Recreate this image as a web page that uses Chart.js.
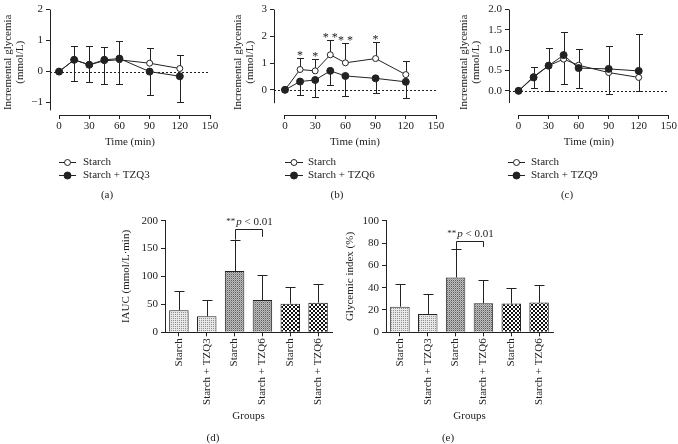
<!DOCTYPE html>
<html>
<head>
<meta charset="utf-8">
<script src="https://cdn.jsdelivr.net/npm/chart.js@4.4.0/dist/chart.umd.min.js"></script>
<style>
    body { margin: 0; background: #fff; width: 678px; height: 444px; position: relative; overflow: hidden; }
    canvas { position: absolute; }
</style>
</head>
<body>
<canvas id="chartA" style="left:0;top:0" width="220" height="205"></canvas>
<canvas id="chartB" style="left:220px;top:0" width="230" height="205"></canvas>
<canvas id="chartC" style="left:450px;top:0" width="228" height="205"></canvas>
<canvas id="chartD" style="left:115px;top:200px" width="225" height="244"></canvas>
<canvas id="chartE" style="left:335px;top:200px" width="225" height="244"></canvas>
<script>
// time course data (mean, SD)
const times = [0, 15, 30, 45, 60, 90, 120];
const timeTicks = [0, 30, 60, 90, 120, 150];

const aStarch = [0, 0.38, 0.22, 0.35, 0.38, 0.27, 0.10];
const aStarchSd = [0, 0.45, 0.61, 0.43, 0.62, 0.48, 0.43];
const aTzq3 = [0, 0.38, 0.22, 0.38, 0.42, 0.00, -0.15];
const aTzq3Sd = [0, 0.68, 0.54, 0.78, 0.82, 0.75, 0.83];
const aYTicks = [-1, 0, 1, 2];

const bStarch = [0, 0.76, 0.71, 1.31, 1.01, 1.17, 0.57];
const bStarchSd = [0, 0.43, 0.43, 0.54, 0.76, 0.61, 0.52];
const bTzq6 = [0, 0.31, 0.37, 0.71, 0.52, 0.43, 0.30];
const bTzq6Sd = [0, 0.49, 0.62, 0.51, 0.76, 0.56, 0.61];
const bSig = ['', '*', '*', '* *', '* *', '*', ''];
const bYTicks = [0, 1, 2, 3];

const cStarch = [0, 0.35, 0.62, 0.78, 0.63, 0.45, 0.33];
const cStarchSd = [0, 0.29, 0.62, 0.61, 0.57, 0.53, 0.33];
const cTzq9 = [0, 0.33, 0.62, 0.88, 0.56, 0.54, 0.49];
const cTzq9Sd = [0, 0.25, 0.43, 0.58, 0.47, 0.56, 0.92];
const cYTicks = [0, 0.5, 1, 1.5, 2];

// bar data
const groups = ['Starch', 'Starch + TZQ3', 'Starch', 'Starch + TZQ6', 'Starch', 'Starch + TZQ6'];
const iauc = [39.4, 28.7, 109.9, 57.9, 51.3, 53.1];
const iaucSd = [34.6, 29.2, 56.1, 45.4, 29.9, 32.9];
const dYTicks = [0, 50, 100, 150, 200];
const gi = [23.0, 16.5, 49.1, 26.0, 25.7, 26.6];
const giSd = [20.4, 17.6, 25.5, 20.7, 14.4, 16.2];
const eYTicks = [0, 20, 40, 60, 80, 100];

const serif = '"Liberation Serif", "DejaVu Serif", serif';
const ink = '#222';

function pts(xs, ys) {
    return xs.map((x, i) => ({ x: x, y: ys[i] }));
}

function fixedTicks(list) {
    return function (scale) {
        scale.ticks = list.map(v => ({ value: v }));
    };
}

function valOf(d) {
    return (d !== null && typeof d === 'object') ? d.y : d;
}

function drawErrors(chart, cap) {
    const ctx = chart.ctx;
    const ys = chart.scales.y;
    chart.data.datasets.forEach((ds, di) => {
        if (!ds.sd) return;
        const meta = chart.getDatasetMeta(di);
        meta.data.forEach((el, i) => {
            const sd = ds.sd[i];
            if (!sd) return;
            const v = valOf(ds.data[i]);
            const px = Math.round(el.x) + 0.5;
            const y0 = ys.getPixelForValue(v);
            const y1 = Math.round(ys.getPixelForValue(v + ds.errDir * sd)) + 0.5;
            ctx.beginPath();
            ctx.moveTo(px, y0);
            ctx.lineTo(px, y1);
            ctx.moveTo(px - cap, y1);
            ctx.lineTo(px + cap, y1);
            ctx.stroke();
        });
    });
}

const gpPlugin = {
    id: 'gp',
    beforeDatasetsDraw(chart, args, opts) {
        const ctx = chart.ctx, area = chart.chartArea;
        const xs = chart.scales.x, ys = chart.scales.y;
        ctx.save();
        ctx.strokeStyle = ink;
        ctx.lineWidth = 1;
        if (opts.detached) {
            // dotted baseline
            const y0 = Math.round(ys.getPixelForValue(0)) + 0.5;
            ctx.setLineDash([2, 2]);
            ctx.beginPath();
            ctx.moveTo(area.left, y0);
            ctx.lineTo(area.right, y0);
            ctx.stroke();
            ctx.setLineDash([]);
            // y axis line
            const ax = Math.round(area.left) + 0.5;
            ctx.beginPath();
            ctx.moveTo(ax, ys.getPixelForValue(ys.max));
            ctx.lineTo(ax, ys.getPixelForValue(opts.yLineMin));
            ctx.stroke();
            // x axis line
            const by = Math.round(area.bottom) + 0.5;
            ctx.beginPath();
            ctx.moveTo(xs.getPixelForValue(timeTicks[0]), by);
            ctx.lineTo(xs.getPixelForValue(timeTicks[timeTicks.length - 1]), by);
            ctx.stroke();
            drawErrors(chart, 3.5);
        }
        ctx.restore();
    },
    afterDatasetsDraw(chart, args, opts) {
        const ctx = chart.ctx;
        const ys = chart.scales.y;
        ctx.save();
        ctx.strokeStyle = ink;
        ctx.fillStyle = ink;
        ctx.lineWidth = 1;
        if (!opts.detached) drawErrors(chart, 5);
        if (opts.stars) {
            const ds = chart.data.datasets[0];
            const meta = chart.getDatasetMeta(0);
            ctx.font = '12px ' + serif;
            ctx.textAlign = 'center';
            ctx.textBaseline = 'alphabetic';
            opts.stars.forEach((s, i) => {
                if (!s) return;
                const top = ys.getPixelForValue(valOf(ds.data[i]) + ds.sd[i]);
                ctx.fillText(s, meta.data[i].x, top + 1);
            });
        }
        if (opts.bracket) {
            const b = opts.bracket;
            const meta = chart.getDatasetMeta(0);
            const x1 = Math.round(meta.data[b.from].x) + 0.5;
            const x2 = Math.round(meta.data[b.to].x) + 0.5;
            const yb = Math.round(ys.getPixelForValue(b.y)) + 0.5;
            ctx.beginPath();
            ctx.moveTo(x1, ys.getPixelForValue(b.leftTo));
            ctx.lineTo(x1, yb);
            ctx.lineTo(x2, yb);
            ctx.lineTo(x2, ys.getPixelForValue(b.rightTo));
            ctx.stroke();
            // "**p < 0.01"
            const f1 = '9px ' + serif, f2 = 'italic 11px ' + serif, f3 = '11px ' + serif;
            ctx.font = f1; const w1 = ctx.measureText('**').width;
            ctx.font = f2; const w2 = ctx.measureText('p').width;
            ctx.font = f3; const w3 = ctx.measureText(' < 0.01').width;
            let tx = (x1 + x2) / 2 - (w1 + w2 + w3) / 2;
            const ty = yb - b.gap;
            ctx.textAlign = 'left';
            ctx.textBaseline = 'alphabetic';
            ctx.font = f1; ctx.fillText('**', tx, ty - 1); tx += w1 + 1;
            ctx.font = f2; ctx.fillText('p', tx, ty); tx += w2;
            ctx.font = f3; ctx.fillText(' < 0.01', tx, ty);
        }
        ctx.restore();
    },
    afterDraw(chart, args, opts) {
        const ctx = chart.ctx;
        ctx.save();
        ctx.fillStyle = ink;
        ctx.strokeStyle = ink;
        ctx.lineWidth = 1;
        if (opts.legend) {
            const L = opts.legend;
            chart.data.datasets.forEach((ds, i) => {
                const y = L.rows[i];
                const cx = (L.x1 + L.x2) / 2;
                ctx.beginPath();
                ctx.moveTo(L.x1, y + 0.5);
                ctx.lineTo(L.x2, y + 0.5);
                ctx.stroke();
                ctx.beginPath();
                ctx.arc(cx, y + 0.5, ds.pointRadius, 0, Math.PI * 2);
                ctx.fillStyle = ds.pointBackgroundColor;
                ctx.fill();
                ctx.stroke();
                ctx.fillStyle = ink;
                ctx.font = '11px ' + serif;
                ctx.textAlign = 'left';
                ctx.textBaseline = 'middle';
                ctx.fillText(ds.label, L.tx, y);
            });
        }
        if (opts.panel) {
            ctx.font = '11px ' + serif;
            ctx.textAlign = 'center';
            ctx.textBaseline = 'middle';
            ctx.fillText(opts.panel.text, opts.panel.x, opts.panel.y);
        }
        ctx.restore();
    }
};

const tickFont = { family: serif, size: 11, weight: 'normal' };

function linePanel(id, p) {
    new Chart(document.getElementById(id), {
        type: 'line',
        data: {
            datasets: [
                {
                    label: 'Starch',
                    data: pts(times, p.starch),
                    sd: p.starchSd,
                    errDir: p.starchDir,
                    borderColor: ink,
                    borderWidth: 1,
                    pointRadius: 3,
                    pointBackgroundColor: '#fff',
                    pointBorderColor: ink,
                    pointBorderWidth: 1,
                    order: 1
                },
                {
                    label: p.label,
                    data: pts(times, p.treat),
                    sd: p.treatSd,
                    errDir: -p.starchDir,
                    borderColor: ink,
                    borderWidth: 1,
                    pointRadius: 3.5,
                    pointBackgroundColor: ink,
                    pointBorderColor: ink,
                    pointBorderWidth: 1,
                    order: 0
                }
            ]
        },
        options: {
            responsive: false,
            animation: false,
            devicePixelRatio: 1,
            layout: { padding: { top: 6, right: p.padRight, bottom: 53, left: 0 } },
            scales: {
                x: {
                    type: 'linear',
                    min: p.xMin,
                    max: 150,
                    afterBuildTicks: fixedTicks(timeTicks),
                    afterFit: s => { s.height = 37; },
                    border: { display: false },
                    grid: { drawOnChartArea: false, drawTicks: true, tickLength: 4, color: ink },
                    ticks: { color: ink, padding: 1, font: tickFont },
                    title: { display: true, text: 'Time (min)', color: ink, padding: { top: 0, bottom: 3 },
                             font: tickFont }
                },
                y: {
                    min: p.yMin,
                    max: p.yMax,
                    afterBuildTicks: fixedTicks(p.yTicks),
                    afterFit: s => { s.width = p.yWidth; },
                    border: { display: false },
                    grid: { drawOnChartArea: false, drawTicks: true, tickLength: 4, color: ink },
                    ticks: {
                        color: ink, padding: 3, font: tickFont,
                        callback: v => (v < 0 ? '\u2212' + Math.abs(v) : (p.decimals ? v.toFixed(1) : String(v)))
                    },
                    title: { display: true, text: ['Incremental glycemia', '(mmol/L)'], color: ink,
                             padding: { top: p.titlePad, bottom: 0 },
                             font: { family: serif, size: 11, weight: 'normal', lineHeight: 1.1 } }
                }
            },
            plugins: {
                legend: { display: false },
                tooltip: { enabled: false },
                gp: {
                    detached: true,
                    yLineMin: p.yLineMin,
                    stars: p.stars,
                    legend: p.legend,
                    panel: p.panel
                }
            }
        },
        plugins: [gpPlugin]
    });
}

linePanel('chartA', {
    starch: aStarch, starchSd: aStarchSd, treat: aTzq3, treatSd: aTzq3Sd, label: 'Starch + TZQ3',
    starchDir: 1, xMin: -9, yMin: -1.4, yMax: 2, yLineMin: -1.25, yTicks: aYTicks,
    yWidth: 50, padRight: 10, titlePad: 2,
    legend: { x1: 59, x2: 76, tx: 83, rows: [162, 175] },
    panel: { text: '(a)', x: 107, y: 195 }
});

linePanel('chartB', {
    starch: bStarch, starchSd: bStarchSd, treat: bTzq6, treatSd: bTzq6Sd, label: 'Starch + TZQ6',
    starchDir: 1, xMin: -10.9, yMin: -0.94, yMax: 3, yLineMin: -0.5, yTicks: bYTicks,
    yWidth: 54, padRight: 14, titlePad: 12, stars: bSig,
    legend: { x1: 65, x2: 83, tx: 88, rows: [162, 175] },
    panel: { text: '(b)', x: 117, y: 195 }
});

linePanel('chartC', {
    starch: cStarch, starchSd: cStarchSd, treat: cTzq9, treatSd: cTzq9Sd, label: 'Starch + TZQ9',
    starchDir: -1, xMin: -9.55, yMin: -0.595, yMax: 2, yLineMin: -0.3, yTicks: cYTicks, decimals: true,
    yWidth: 59, padRight: 2, titlePad: 8,
    legend: { x1: 58, x2: 75, tx: 81, rows: [162, 175] },
    panel: { text: '(c)', x: 117, y: 195 }
});

// bar fills
function tile(size, draw) {
    const c = document.createElement('canvas');
    c.width = size; c.height = size;
    draw(c.getContext('2d'));
    return document.createElement('canvas').getContext('2d').createPattern(c, 'repeat');
}
const lightDots = tile(2, g => {
    g.fillStyle = '#e8e8e8'; g.fillRect(0, 0, 2, 2);
    g.fillStyle = '#909090'; g.fillRect(0, 0, 1, 1);
});
const greyHatch = tile(2, g => {
    g.fillStyle = '#bdbdbd'; g.fillRect(0, 0, 2, 2);
    g.fillStyle = '#5e5e5e'; g.fillRect(0, 0, 1, 1);
    g.fillStyle = '#999'; g.fillRect(1, 1, 1, 1);
});
const checker = tile(4, g => {
    g.fillStyle = '#fff'; g.fillRect(0, 0, 4, 4);
    g.fillStyle = '#111'; g.fillRect(0, 0, 2, 2); g.fillRect(2, 2, 2, 2);
});
const barFills = [lightDots, lightDots, greyHatch, greyHatch, checker, checker];

function barPanel(id, p) {
    new Chart(document.getElementById(id), {
        type: 'bar',
        data: {
            labels: groups,
            datasets: [{
                data: p.values,
                sd: p.sd,
                errDir: 1,
                backgroundColor: barFills,
                borderColor: ink,
                borderWidth: 1,
                borderSkipped: 'bottom',
                barPercentage: 0.7,
                categoryPercentage: 1
            }]
        },
        options: {
            responsive: false,
            animation: false,
            devicePixelRatio: 1,
            layout: { padding: { top: 20.7, right: p.padRight, bottom: 21.7, left: 0 } },
            scales: {
                x: {
                    afterFit: s => { s.height = 90; },
                    border: { color: ink },
                    grid: { offset: false, drawOnChartArea: false, drawTicks: true, tickLength: 4, color: ink },
                    ticks: { color: ink, padding: 2, minRotation: 90, maxRotation: 90, autoSkip: false,
                             font: tickFont },
                    title: { display: true, text: 'Groups', color: ink, padding: { top: 0, bottom: 0 },
                             font: tickFont }
                },
                y: {
                    min: 0,
                    max: p.yMax,
                    afterBuildTicks: fixedTicks(p.yTicks),
                    afterFit: s => { s.width = p.yWidth; },
                    border: { color: ink },
                    grid: { drawOnChartArea: false, drawTicks: true, tickLength: 4, color: ink },
                    ticks: { color: ink, padding: 3, font: tickFont },
                    title: { display: true, text: p.yTitle, color: ink, padding: { top: p.titlePad, bottom: 0 },
                             font: tickFont }
                }
            },
            plugins: {
                legend: { display: false },
                tooltip: { enabled: false },
                gp: { detached: false, bracket: p.bracket, panel: p.panel }
            }
        },
        plugins: [gpPlugin]
    });
}

barPanel('chartD', {
    values: iauc, sd: iaucSd, yMax: 200, yTicks: dYTicks, yWidth: 50, padRight: 8, titlePad: 5,
    yTitle: 'IAUC (mmol/L\u00b7min)',
    bracket: { from: 2, to: 3, y: 184.6, leftTo: 166, rightTo: 171, gap: 5 },
    panel: { text: '(d)', x: 98, y: 238 }
});

barPanel('chartE', {
    values: gi, sd: giSd, yMax: 100, yTicks: eYTicks, yWidth: 51, padRight: 7, titlePad: 9,
    yTitle: 'Glycemic index (%)',
    bracket: { from: 2, to: 3, y: 82, leftTo: 74.6, rightTo: 76.4, gap: 4.5 },
    panel: { text: '(e)', x: 113, y: 238 }
});
</script>
</body>
</html>
